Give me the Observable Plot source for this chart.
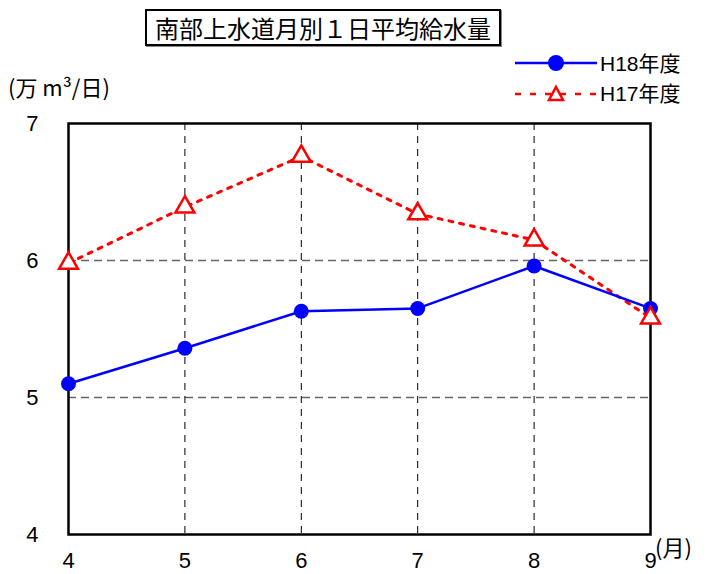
<!DOCTYPE html>
<html><head><meta charset="utf-8">
<script src="https://cdn.jsdelivr.net/npm/d3@7"></script>
<script src="https://cdn.jsdelivr.net/npm/@observablehq/plot@0.6"></script>
<style>
body{margin:0;background:#fff;font-family:"Liberation Sans",Arial,"Noto Sans CJK JP",sans-serif;}
#wrap{position:relative;width:709px;height:574px;}
#chart{position:absolute;left:0;top:0;}
.t{position:absolute;white-space:nowrap;color:#000;}
#title{left:145px;top:9px;width:352px;height:33px;border:2px solid #000;font-family:"Noto Sans CJK JP",sans-serif;font-size:24px;line-height:33px;text-align:center;box-shadow:1px 1px 0 #888;}
#unit{left:8px;top:70px;font-family:"Noto Sans CJK JP",sans-serif;font-size:22px;}
#mon{left:655px;top:530px;font-family:"Noto Sans CJK JP",sans-serif;font-size:22px;}
.leg{position:absolute;left:512px;height:28px;width:190px;}
.leg span{position:absolute;left:88px;top:0;white-space:nowrap;font-family:"Liberation Sans","Noto Sans CJK JP",sans-serif;font-size:21px;line-height:28px;}
</style></head><body>
<div id="wrap">
<div id="chart"></div>
<div id="title" class="t">南部上水道月別１日平均給水量</div>
<div id="unit" class="t">(万 m³/日)</div>
<div id="mon" class="t">(月)</div>
<div class="leg" style="top:50px"><svg width="88" height="28"><line x1="3" x2="85" y1="13" y2="13" stroke="#0000ff" stroke-width="2.5"/><circle cx="44" cy="13" r="8" fill="#0000ff"/></svg><span>H18年度</span></div>
<div class="leg" style="top:80px"><svg width="88" height="28"><line x1="3" x2="85" y1="14" y2="14" stroke="#ff0000" stroke-width="2.5" stroke-dasharray="6,9"/><path d="M44,7 L51,20 L37,20 Z" fill="#fff" stroke="#ff0000" stroke-width="2.5"/></svg><span>H17年度</span></div>
</div>
<script>
const months = [4,5,6,7,8,9];
const h18 = [5.10,5.36,5.63,5.65,5.96,5.65];
const h17 = [5.98,6.39,6.76,6.34,6.15,5.58];
const yTicks = [4,5,6,7];
const xTicks = [4,5,6,7,8,9];

const d18 = months.map((m,i)=>({m, v:h18[i]}));
const d17 = months.map((m,i)=>({m, v:h17[i]}));

const chart = Plot.plot({
  width:709, height:574,
  marginLeft:68, marginRight:59, marginTop:123, marginBottom:40,
  style:{fontFamily:'"Liberation Sans",Arial,sans-serif', fontSize:"22px", color:"#000", background:"#fff"},
  x:{domain:[4,9]},
  y:{domain:[4,7]},
  marks:[
    Plot.ruleY([5,6],{stroke:"#666",strokeWidth:1.5,strokeDasharray:"8,5"}),
    Plot.ruleX([5,6,7,8],{stroke:"#000",strokeWidth:1,strokeDasharray:"7,6"}),
    Plot.frame({stroke:"#000",strokeWidth:2.5}),
    Plot.axisY(yTicks,{tickSize:0,tickPadding:30,label:null,fontSize:22,tickFormat:"d"}),
    Plot.axisX(xTicks,{tickSize:0,tickPadding:18,label:null,fontSize:22,tickFormat:"d"}),
    Plot.line(d17,{x:"m",y:"v",stroke:"#ff0000",strokeWidth:3,strokeDasharray:"4,7"}),
    Plot.line(d18,{x:"m",y:"v",stroke:"#0000ff",strokeWidth:2.5}),
    Plot.dot(d18,{x:"m",y:"v",r:7.5,fill:"#0000ff"}),
    Plot.dot(d17,{x:"m",y:"v",r:7,symbol:"triangle",fill:"#fff",stroke:"#ff0000",strokeWidth:2.5})
  ]
});
document.getElementById("chart").appendChild(chart);
</script>
</body></html>
